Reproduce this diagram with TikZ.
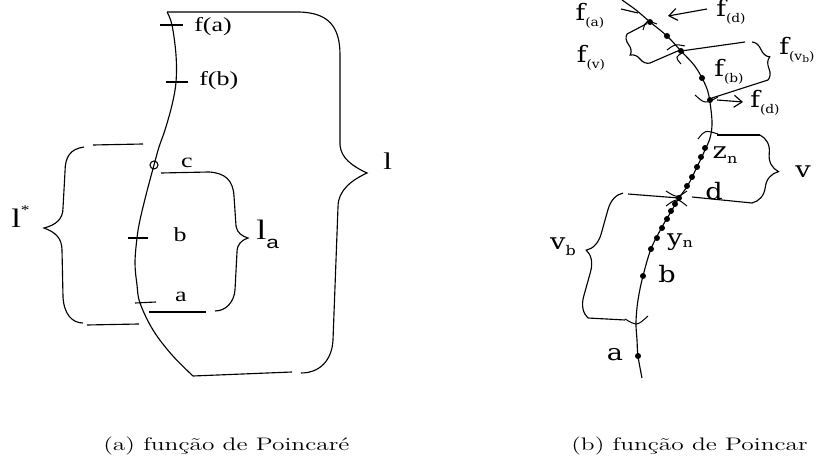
\documentclass[tikz,border=0pt]{standalone}
\usepackage{fontspec}
\usepackage{graphicx}
\usetikzlibrary{decorations.pathreplacing,arrows.meta}
\newfontfamily\lfont{Liberation Serif}
\newfontfamily\rfont{DejaVu Serif}
\newfontfamily\sfont{Liberation Sans}
\newcommand{\hstr}[2]{\scalebox{#1}[1]{#2}}
\newcommand{\rsub}[2]{#1\raisebox{-0.28em}{\fontsize{9}{9}\selectfont #2}}
\begin{document}
\begin{tikzpicture}[x=0.75pt,y=-0.75pt,
  ln/.style={line width=0.85pt,black},
  marc/.style={line width=0.75pt,black},
  dot/.style={circle,fill=black,inner sep=0pt,minimum size=4.5pt},
  lbl/.style={inner sep=0pt,font=\lfont\fontsize{15}{15}\selectfont},
  bigl/.style={inner sep=0pt,font=\lfont\fontsize{20}{20}\selectfont},
  rlbl/.style={inner sep=0pt,font=\rfont\fontsize{17}{17}\selectfont},
  captxt/.style={inner sep=0pt},
  rbrace/.style={ln,decorate,decoration={brace,amplitude=#1}},
  barb/.style={ln,-{Straight Barb[length=6pt,width=9pt]}}
]
\useasboundingbox (0,0) rectangle (817,466);

% ---------------- left figure ----------------
\draw[ln] plot[smooth,tension=0.6] coordinates {(167,12) (172,25) (176,55) (176,82) (172,105) (165,130) (159,147) (154,165) (146,195) (140,220) (137,238) (135,263) (137,285) (140,303) (153,330) (172,355) (193,376)};

% big brace l
\coordinate (ltop) at (167,12);
\coordinate (lbot) at (193,376);
\draw[ln] (ltop) -- (297,12) .. controls (328,12) and (340,26) .. (340,55) -- (340,145)
  .. controls (341,158) and (352,166) .. (367,173)
  .. controls (352,180) and (338,190) .. (338,207) -- (333,340)
  .. controls (332,360) and (320,373) .. (301,373);
\draw[ln] (lbot) -- (292,372);
\node[bigl,anchor=base west] (lbl) at (383,170) {\hstr{1.3}{\fontsize{18}{18}\selectfont l}};

% brace l*
\draw[ln] (84,147) .. controls (70,149) and (65,157) .. (65,172) -- (63,208)
  .. controls (63,219) and (56,225) .. (44,228)
  .. controls (55,232) and (62,238) .. (62,250) -- (63,297)
  .. controls (64,314) and (72,323) .. (83,323);
\coordinate (st1) at (93,145); \coordinate (st2) at (143,144);
\coordinate (sb1) at (87,325); \coordinate (sb2) at (139,324);
\draw[ln] (st1) -- (st2);
\draw[ln] (sb1) -- (sb2);
\node[bigl,anchor=base west] (lstar) at (11,228) {\hstr{1.3}{l\raisebox{0.5em}{\fontsize{10}{10}\selectfont *}}};

% brace l_a
\coordinate (at1) at (161,173); \coordinate (at2) at (209,172);
\coordinate (ab1) at (149,312); \coordinate (ab2) at (206,312);
\draw[ln] (at1) -- (at2) .. controls (225,173) and (233,180) .. (234,196) -- (236,226)
  .. controls (237,233) and (242,236) .. (248,238)
  .. controls (242,240) and (237,244) .. (237,252) -- (235,290)
  .. controls (234,302) and (226,311) .. (215,311);
\draw[ln] (ab1) -- (ab2);
\node[bigl,anchor=base west] (la) at (256,240) {\hstr{1.3}{\fontsize{21}{21}\selectfont l\raisebox{-0.3em}{\sfont\fontsize{13}{13}\selectfont a}}};

% ticks and labels
\draw[ln] (160,25) coordinate (tfa1) -- (183,25) coordinate (tfa2);
\draw[ln] (166,82) coordinate (tfb1) -- (188,82) coordinate (tfb2);
\draw[ln] (128,238) coordinate (tb1) -- (148,238) coordinate (tb2);
\draw[ln] (135,303) coordinate (ta1) -- (156,302) coordinate (ta2);
\node[lbl,anchor=west] (lfa) at (194,27) {\hstr{1.3}{f(a)}};
\node[lbl,anchor=west] (lfb) at (199,81) {\hstr{1.3}{f(b)}};
\node[lbl] (lc) at (187,163) {\hstr{1.3}{c}};
\node[lbl] (lb) at (180,235) {\hstr{1.3}{b}};
\node[lbl] (lA) at (181,297) {\hstr{1.3}{a}};
\node[draw,circle,inner sep=0pt,minimum size=6pt,line width=0.8pt] (oc) at (154,165) {};

% ---------------- right figure ----------------
\draw[ln] plot[smooth,tension=0.6] coordinates {(622,0) (636,10) (650,22) (667,36) (681,51) (694,65) (702,78) (708,92) (711,110) (712,125) (710,138) (705,150) (697,167) (688,185) (679,198) (672,210) (662,227) (651,249) (643,276) (638,300) (636,322) (637,340) (638,356) (642,378)};

\foreach \p [count=\i] in {(650,22),(667,36),(681,51),(702,78),(710,100),(705,148),(701,157),(697,167),(692,177),(687,186),(679,198),(675,204),(671,211),(667,219),(662,228),(657,238),(651,249),(643,276),(638,356)}
  \node[dot] (r\i) at \p {};

% tick near f(a)
\draw[ln] (621,9) coordinate (rt1) -- (638,13) coordinate (rt2);

% arrows to f(d)
\coordinate (ad1s) at (707,9); \coordinate (ad1e) at (668,16);
\draw[barb] (ad1s) -- (ad1e);
\coordinate (ad2s) at (717,100); \coordinate (ad2e) at (743,102);
\draw[barb] (ad2s) -- (ad2e);

% interval end marks
\draw[marc] (643,30) .. controls (646,20) .. (657,24);
\draw[marc] (667,50) .. controls (675,44) .. (685,46);
\draw[marc] (684,52) .. controls (675,57) .. (681,64);
\draw[marc] (695,95) .. controls (705,104) .. (718,97);
\draw[marc] (698,139) .. controls (705,130) .. (718,134);
\draw[marc] (666,191) .. controls (677,198) .. (687,191);
\draw[marc] (666,206) .. controls (677,198) .. (687,206);
\draw[marc] (625,319) .. controls (637,326) .. (648,316);

% brace f(v)
\coordinate (fvt) at (627,34); \coordinate (fvb) at (650,63);
\draw[ln] (r1) -- (fvt);
\draw[ln] (fvb) -- (680,50);
\draw[rbrace=8pt] (fvb) -- (fvt);

% brace f(v_b)
\coordinate (fvbt) at (752,42); \coordinate (fvbb) at (768,80);
\draw[ln] (r3) -- (745,42);
\draw[ln] (712,98) -- (fvbb);
\draw[rbrace=8pt] (fvbt) -- (fvbb);

% brace v
\coordinate (vt) at (760,135); \coordinate (vb) at (752,203);
\draw[ln] (717,135) -- (vt);
\draw[ln] (692,197) -- (vb);
\draw[rbrace=17pt] (vt) -- (vb);

% brace v_b
\coordinate (vbt) at (623,193); \coordinate (vbb) at (588,318);
\draw[ln] (679,198) -- (628,194);
\draw[ln] (vbb) -- (625,320);
\draw[rbrace=15pt] (vbb) -- (vbt);

% right labels
\node[rlbl] (rfa) at (590,16) {\hstr{1.15}{\rsub{f}{(a)}}};
\node[rlbl] (rfd1) at (731,12) {\hstr{1.15}{\rsub{f}{(d)}}};
\node[rlbl] (rfv) at (591,58) {\hstr{1.15}{\rsub{f}{(v)}}};
\node[rlbl] (rfvb) at (797,50) {\hstr{1.15}{\rsub{f}{(v\raisebox{-0.2em}{\fontsize{7}{7}\selectfont b})}}};
\node[rlbl] (rfb) at (729,72) {\hstr{1.15}{\rsub{f}{(b)}}};
\node[rlbl] (rfd2) at (765,103) {\hstr{1.15}{\rsub{f}{(d)}}};
\node[rlbl] (rz) at (725,155) {\hstr{1.2}{z\raisebox{-0.25em}{\fontsize{10}{10}\selectfont n}}};
\node[rlbl] (rd) at (714,191) {\hstr{1.2}{d}};
\node[rlbl] (rv) at (803,172) {\hstr{1.2}{v}};
\node[rlbl] (ry) at (680,242) {\hstr{1.2}{y\raisebox{-0.1em}{\fontsize{10}{10}\selectfont n}}};
\node[rlbl] (rvb) at (563,247) {\hstr{1.2}{v\raisebox{-0.25em}{\fontsize{10}{10}\selectfont b}}};
\node[rlbl] (rb) at (667,274) {\hstr{1.2}{b}};
\node[rlbl] (ra) at (615,355) {\hstr{1.2}{a}};

% captions
\node[captxt,anchor=base west] (capa) at (103,450) {\hstr{1.4}{\fontsize{13.6}{16}\selectfont (a) função de Poincaré}};
\node[captxt,anchor=base west] (capb) at (571,450) {\hstr{1.4}{\fontsize{13.6}{16}\selectfont (b) função de Poincar}};
\end{tikzpicture}
\end{document}
